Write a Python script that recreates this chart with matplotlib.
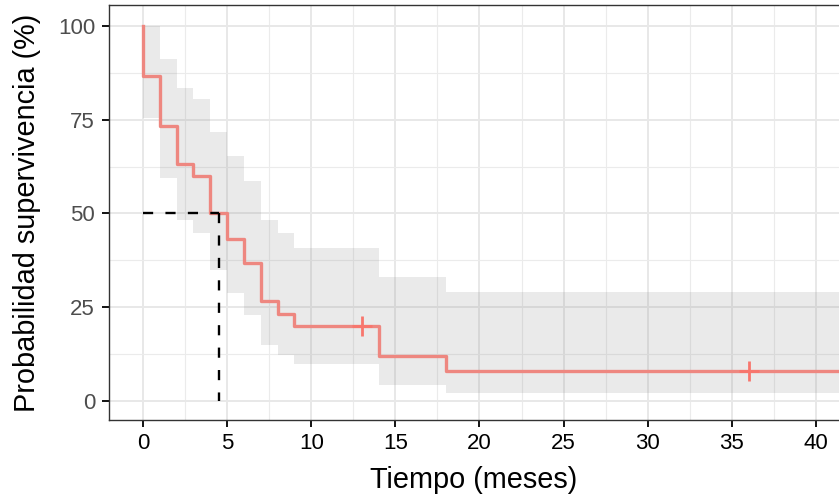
import matplotlib
matplotlib.use("Agg")
import matplotlib.pyplot as plt
from matplotlib.ticker import MultipleLocator

# datos de la curva de Kaplan-Meier (en %)
tiempos = [0, 0, 1, 2, 3, 4, 5, 6, 7, 8, 9, 14, 18, 42]
superv = [100, 86.67, 73.33, 63.33, 60, 50, 43.33, 36.67, 26.67, 23.33, 20, 12, 8, 8]
ic_sup = [100, 100, 91.1, 83.4, 80.5, 71.6, 65.3, 58.7, 48.3, 44.7, 40.9, 33.0, 29.0, 29.0]
ic_inf = [100, 75.4, 59.4, 48.3, 44.8, 34.9, 28.7, 22.9, 14.8, 12.3, 9.8, 4.3, 2.1, 2.1]

# censuras
cens_t = [13, 36]
cens_s = [20, 8]

mediana = 4.5

plt.rcParams["font.family"] = ["Liberation Sans", "DejaVu Sans"]

fig = plt.figure(figsize=(8.39, 4.98), dpi=100)
ax = fig.add_axes([109 / 839, 78 / 498, 730 / 839, 415 / 498])

# grid estilo theme_bw
ax.set_axisbelow(True)
ax.xaxis.set_major_locator(MultipleLocator(5))
ax.xaxis.set_minor_locator(MultipleLocator(2.5))
ax.yaxis.set_major_locator(MultipleLocator(25))
ax.yaxis.set_minor_locator(MultipleLocator(12.5))
ax.grid(which="major", color="#E8E8E8", linewidth=1.4)
ax.grid(which="minor", color="#EBEBEB", linewidth=0.8)

# banda de confianza
ax.fill_between(tiempos, ic_inf, ic_sup, step="post", color="#7F7F7F",
                alpha=0.16, linewidth=0)

# curva
ax.step(tiempos, superv, where="post", color="#EE8780", linewidth=2.4)
ax.plot(cens_t, cens_s, linestyle="none", marker="+", markersize=14,
        markeredgewidth=2.0, color="#F8766D")

# mediana
ax.plot([0, mediana], [50, 50], color="black", linewidth=1.7, dashes=(4.3, 5.2))
ax.plot([mediana, mediana], [50, 0], color="black", linewidth=1.7, dashes=(4.3, 5.2))

ax.set_xlim(-2.02, 41.37)
ax.set_ylim(-5.07, 105.6)

for s in ["top", "left", "bottom"]:
    ax.spines[s].set_color("#333333")
    ax.spines[s].set_linewidth(1.0)
ax.spines["right"].set_visible(False)

ax.tick_params(which="minor", length=0)
ax.tick_params(which="major", length=5, width=1.3, color="black")
ax.tick_params(axis="x", labelsize=16, labelcolor="black", pad=4)
ax.tick_params(axis="y", labelsize=16, labelcolor="#4D4D4D", pad=5)

ax.set_xlabel("Tiempo (meses)", fontsize=20.8, labelpad=9)
ax.set_ylabel("Probabilidad supervivencia (%)", fontsize=20.8, labelpad=12)

fig.savefig("out.png", dpi=100)
